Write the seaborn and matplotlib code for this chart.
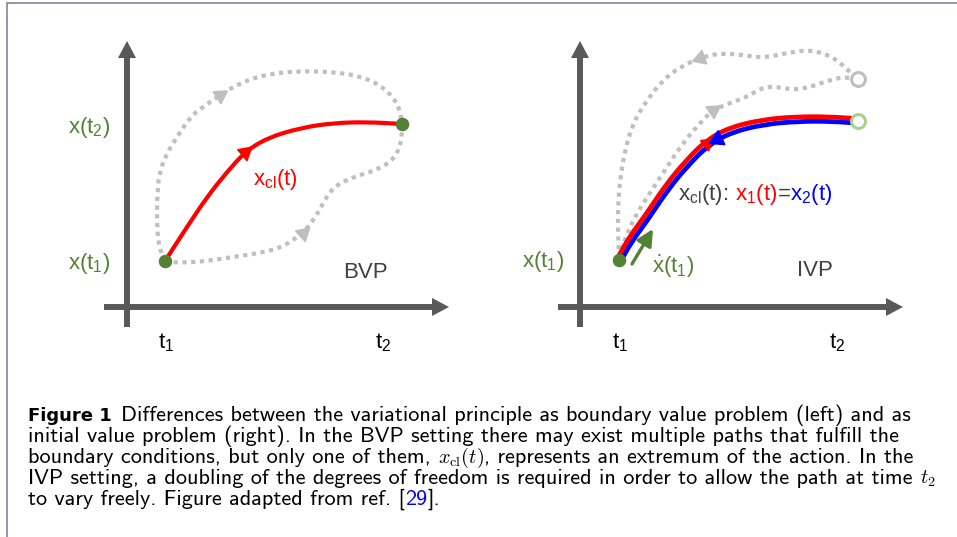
import numpy as np
import matplotlib
matplotlib.use("Agg")
import matplotlib.pyplot as plt
from matplotlib.path import Path
from matplotlib.patches import PathPatch, Polygon
import matplotlib.transforms as mtransforms
import seaborn as sns

# --- diagram data (pixel coordinates of the reference) ---
# left panel: boundary value problem
bvp_start = (165, 261)
bvp_end = (402, 124)
bvp_classical = [(165, 261), (187, 227), (207, 197), (227, 172), (245, 152), (267, 138),
                 (300, 128), (333, 123), (367, 122), (402, 124)]
bvp_upper = [(165, 261), (159, 247), (157, 227), (157, 200), (159, 173), (167, 153), (177, 137),
             (190, 117), (203, 107), (220, 95), (240, 83), (267, 74), (300, 71), (333, 72),
             (360, 76), (380, 85), (393, 97), (400, 110), (402, 124)]
bvp_lower = [(165, 261), (180, 263), (207, 261), (233, 257), (260, 253), (283, 247), (303, 233),
             (315, 218), (322, 205), (333, 187), (353, 177), (377, 170), (393, 160), (400, 147),
             (402, 133), (402, 124)]

# right panel: initial value problem
ivp_start = (619, 260)
ivp_end = (858, 121)
ivp_free_end = (858, 79)
ivp_classical = [(619, 260), (630, 240), (647, 217), (667, 187), (687, 163), (707, 143),
                 (730, 130), (763, 122), (797, 119), (830, 119), (858, 121)]
ivp_outer = [(619, 258), (618, 233), (618, 207), (620, 180), (625, 150), (633, 123), (647, 100),
             (663, 80), (680, 67), (700, 58), (720, 53), (743, 55), (763, 58), (787, 53),
             (807, 50), (823, 53), (837, 60), (850, 72), (857, 79)]
ivp_inner = [(619, 258), (627, 233), (637, 213), (650, 193), (667, 167), (683, 143), (700, 123),
             (713, 110), (730, 103), (747, 97), (763, 87), (780, 87), (793, 90), (810, 87),
             (827, 81), (843, 77), (857, 79)]

caption_lines = [
    "Differences between the variational principle as boundary value problem (left) and as",
    "initial value problem (right). In the BVP setting there may exist multiple paths that fulfill the",
    "boundary conditions, but only one of them, ",
    "IVP setting, a doubling of the degrees of freedom is required in order to allow the path at time ",
    "to vary freely. Figure adapted from ref. [",
]

AXIS = "#595959"
GREEN = "#548235"
LIGHTGREEN = "#a9d18e"
GRAY = "#bfbfbf"
TEXT = "#404040"
RED = "#ff0000"
BLUE = "#0000ff"

sns.set_theme(style="white")
plt.rcParams["font.family"] = ["Liberation Sans", "DejaVu Sans"]

fig = plt.figure(figsize=(9.57, 5.37), dpi=100)
ax = fig.add_axes([0, 0, 1, 1])
ax.set_xlim(0, 957)
ax.set_ylim(537, 0)
ax.axis("off")
renderer = fig.canvas.get_renderer()


def smooth(pts):
    pts = np.asarray(pts, dtype=float)
    mids = (pts[:-1] + pts[1:]) / 2
    verts = [pts[0], mids[0]]
    codes = [Path.MOVETO, Path.LINETO]
    for i in range(1, len(pts) - 1):
        verts += [pts[i], mids[i]]
        codes += [Path.CURVE3, Path.CURVE3]
    verts.append(pts[-1])
    codes.append(Path.LINETO)
    return Path(verts, codes)


def draw_path(pts, color, lw, dotted=False, transform=None):
    kw = dict(fill=False, edgecolor=color, lw=lw, capstyle="butt", joinstyle="round")
    if dotted:
        kw["linestyle"] = (0, (1, 1.1))
    if transform is not None:
        kw["transform"] = transform
    ax.add_patch(PathPatch(smooth(pts), **kw))


def arrow_on(pts, i, color, size, backward=False):
    (x0, y0), (x1, y1) = pts[i - 1], pts[i + 1]
    if backward:
        x0, y0, x1, y1 = x1, y1, x0, y0
    theta = np.degrees(np.arctan2(-(y1 - y0), x1 - x0))
    ax.plot([pts[i][0]], [pts[i][1]], marker=(3, 0, theta - 90), ms=size,
            color=color, mec=color, zorder=5)


def axis_arrow(x0, y0, x1, y1):
    d = np.array([x1 - x0, y1 - y0], dtype=float)
    d /= np.hypot(*d)
    n = np.array([-d[1], d[0]])
    tip = np.array([x1, y1], dtype=float)
    base = tip - 17 * d
    ax.plot([x0, base[0]], [y0, base[1]], color=AXIS, lw=4.3, solid_capstyle="butt")
    ax.add_patch(Polygon([tip, base + 9 * n, base - 9 * n], closed=True, color=AXIS, lw=0))


def chain(x, y, parts, **kw):
    # parts: (text, colour, extra text kwargs, gap in px before the piece)
    inv = ax.transData.inverted()
    for s, c, extra, gap in parts:
        t = ax.text(x + gap, y, s, color=c, va="baseline", ha="left", **{**kw, **extra})
        bb = t.get_window_extent(renderer)
        x = inv.transform((bb.x1, bb.y0))[0]
    return x


# frame of the figure box
ax.plot([7, 957], [3, 3], color="#8c8ca8", lw=1.3)
ax.plot([7, 7], [3, 537], color="#8c8ca8", lw=1.3)

# axes
axis_arrow(127, 327, 127, 41)
axis_arrow(104, 307, 449, 307)
axis_arrow(580, 327, 580, 41)
axis_arrow(558, 307, 903, 307)

# left panel paths
draw_path(bvp_upper, GRAY, 3, dotted=True)
draw_path(bvp_lower, GRAY, 3, dotted=True)
arrow_on(bvp_upper, 9, GRAY, 12)
arrow_on(bvp_lower, 6, GRAY, 12)
draw_path(bvp_classical, RED, 3)
arrow_on(bvp_classical, 4, RED, 12)

# right panel paths
draw_path(ivp_outer, GRAY, 3, dotted=True)
draw_path(ivp_inner, GRAY, 3, dotted=True)
arrow_on(ivp_outer, 9, GRAY, 12, backward=True)
arrow_on(ivp_inner, 7, GRAY, 12)
red_tr = mtransforms.offset_copy(ax.transData, fig=fig, x=-1.2, y=2.3, units="dots")
blue_tr = mtransforms.offset_copy(ax.transData, fig=fig, x=1.2, y=-2.3, units="dots")
draw_path(ivp_classical, BLUE, 3.4, transform=blue_tr)
draw_path(ivp_classical, RED, 3.4, transform=red_tr)
arrow_on(ivp_classical, 5, RED, 11)
arrow_on([(750, 127), (717, 139), (700, 150)], 1, BLUE, 13)

# green velocity arrow
ax.annotate("", xy=(653, 229), xytext=(632, 264),
            arrowprops=dict(arrowstyle="-|>,head_length=0.7,head_width=0.35",
                            color=GREEN, lw=2.4, shrinkA=0, shrinkB=0, mutation_scale=14))

# points
pts = np.array([bvp_start, bvp_end, ivp_start])
sns.scatterplot(x=pts[:, 0], y=pts[:, 1], color=GREEN, s=95, linewidth=0, ax=ax, zorder=6)
ax.plot(*ivp_end, marker="o", ms=10, mfc="white", mec=LIGHTGREEN, mew=2.2, zorder=6)
ax.plot(*ivp_free_end, marker="o", ms=10, mfc="white", mec=GRAY, mew=2.2, zorder=6)

# labels
fs = 16
ax.text(89, 127, r"x(t$_\mathregular{2}$)", color=GREEN, fontsize=fs, ha="center", va="center")
ax.text(89, 263, r"x(t$_\mathregular{1}$)", color=GREEN, fontsize=fs, ha="center", va="center")
ax.text(253, 180, r"x$_\mathregular{cl}$(t)", color=RED, fontsize=fs, ha="left", va="center")
ax.text(343, 273, "BVP", color=TEXT, fontsize=fs, ha="left", va="center")
ax.text(166, 343, r"t$_\mathregular{1}$", color="black", fontsize=fs, ha="center", va="center")
ax.text(383, 343, r"t$_\mathregular{2}$", color="black", fontsize=fs, ha="center", va="center")

ax.text(543, 262, r"x(t$_\mathregular{1}$)", color=GREEN, fontsize=fs, ha="center", va="center")
ax.text(652, 266, r"$\dot{\mathregular{x}}$(t$_\mathregular{1}$)", color=GREEN, fontsize=fs,
        ha="left", va="center")
ax.text(797, 270, "IVP", color=TEXT, fontsize=fs, ha="left", va="center")
ax.text(620, 343, r"t$_\mathregular{1}$", color="black", fontsize=fs, ha="center", va="center")
ax.text(837, 343, r"t$_\mathregular{2}$", color="black", fontsize=fs, ha="center", va="center")
chain(678, 200, [(r"x$_\mathregular{cl}$(t):", TEXT, {}, 0),
                 (r"x$_\mathregular{1}$(t)", RED, {}, 7),
                 ("=", TEXT, {}, 0),
                 (r"x$_\mathregular{2}$(t)", BLUE, {}, 0)], fontsize=fs)

# caption
cap = dict(fontsize=16, family="cmss10")
math = dict(math_fontfamily="cm", fontsize=14.5)
bold = dict(family="DejaVu Sans", fontweight="bold", fontsize=13)
x0, y0, dy = 28, 421, 21
chain(x0, y0, [("Figure 1", "black", bold, 0),
               (caption_lines[0], "black", {}, 9)], **cap)
chain(x0, y0 + dy, [(caption_lines[1], "black", {}, 0)], **cap)
chain(x0, y0 + 2 * dy, [(caption_lines[2], "black", {}, 0),
                        (r"$x_{\mathrm{cl}}(t)$", "black", math, 0),
                        (", represents an extremum of the action. In the", "black", {}, 0)], **cap)
chain(x0, y0 + 3 * dy, [(caption_lines[3], "black", {}, 0),
                        (r"$t_2$", "black", math, 0)], **cap)
chain(x0, y0 + 4 * dy, [(caption_lines[4], "black", {}, 0),
                        ("29", BLUE, {}, 0),
                        ("].", "black", {}, 0)], **cap)

fig.savefig("out.png", dpi=100)
